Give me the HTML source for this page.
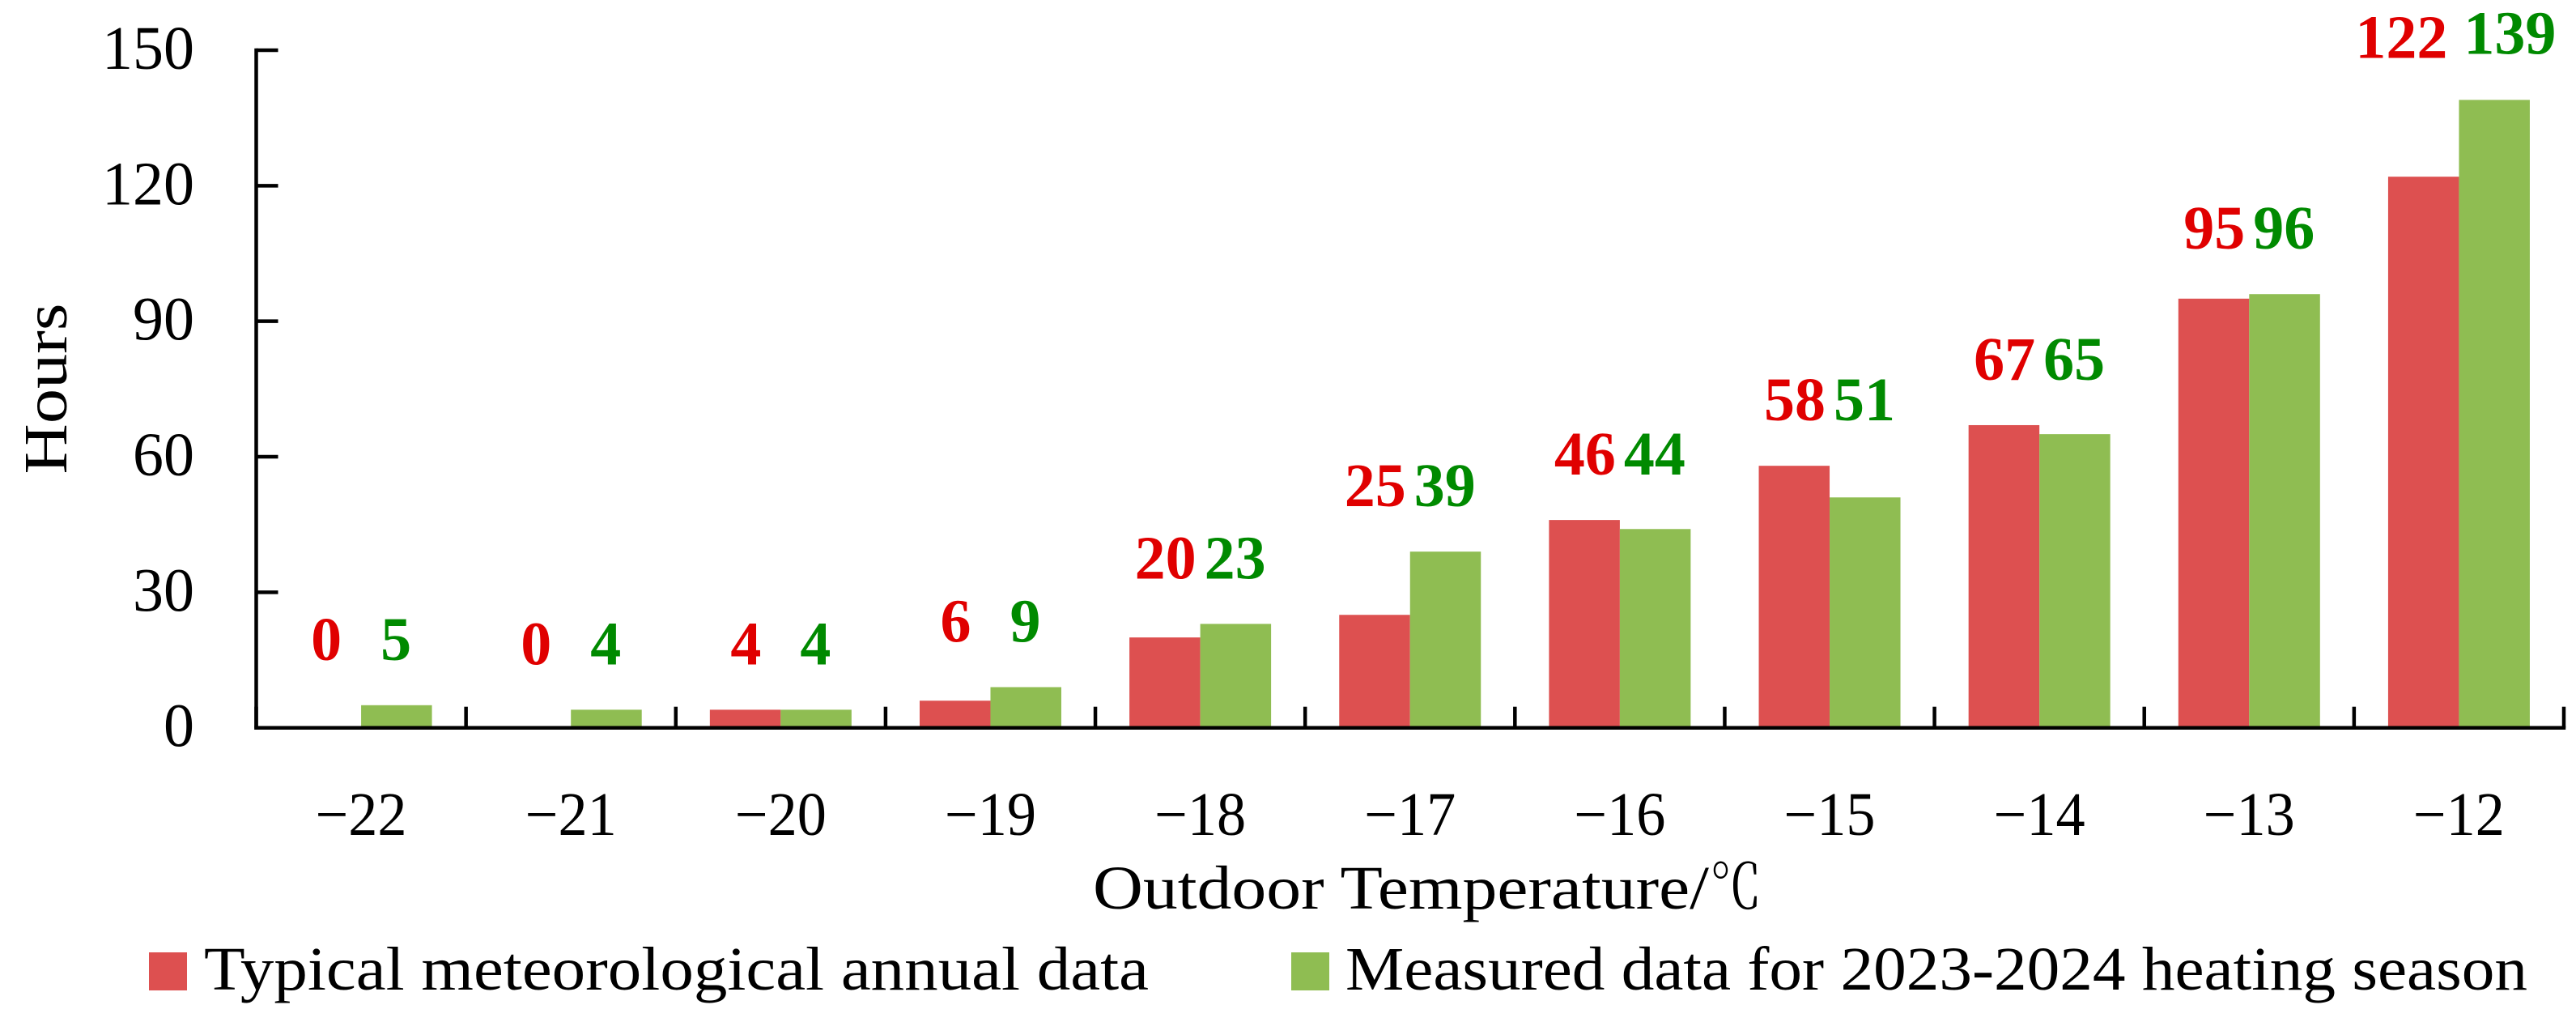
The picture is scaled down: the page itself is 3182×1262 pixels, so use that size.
<!DOCTYPE html>
<html lang="en">
<head>
<meta charset="utf-8">
<title>Outdoor temperature hours chart</title>
<style>
html,body{margin:0;padding:0;background:#fff;}
svg{display:block;}
text{font-family:"Liberation Serif","Noto Serif CJK SC",serif;fill:#000;font-size:76px;}
.lbl{font-weight:bold;}
</style>
</head>
<body>
<svg id="chart" xmlns="http://www.w3.org/2000/svg" width="3182" height="1262" viewBox="0 0 3182 1262">
  <rect x="0" y="0" width="3182" height="1262" fill="#fff"/>
  <g id="bars"></g>
  <g id="axes"></g>
  <g id="labels"></g>
  <text transform="translate(82,480) rotate(-90)" text-anchor="middle" textLength="211" lengthAdjust="spacingAndGlyphs">Hours</text>
  <text x="1350" y="1122" textLength="761" lengthAdjust="spacingAndGlyphs">Outdoor Temperature/</text>
  <text x="2112" y="1122" textLength="64" lengthAdjust="spacingAndGlyphs">℃</text>
  <g>
    <rect x="184" y="1176" width="47" height="47" fill="#DD5050"/>
    <text x="252" y="1222" textLength="1167" lengthAdjust="spacingAndGlyphs">Typical meteorological annual data</text>
    <rect x="1595" y="1176" width="47" height="47" fill="#8FBD52"/>
    <text x="1662" y="1222" textLength="1460" lengthAdjust="spacingAndGlyphs">Measured data for 2023-2024 heating season</text>
  </g>
</svg>
<script>
const categories = ["−22","−21","−20","−19","−18","−17","−16","−15","−14","−13","−12"];
const typicalHours = [0,0,4,6,20,25,46,58,67,95,122];
const measuredHours = [5,4,4,9,23,39,44,51,65,96,139];
const yTicks = [0,30,60,90,120,150];

const NS = "http://www.w3.org/2000/svg";
const plotLeft = 316.5, plotRight = 3167, plotBaseY = 898.7, plotTopY = 62;
const yMax = 150;
const barWidth = 87.5;
const stroke = 4.5;
const redBar = "#DD5050", greenBar = "#8FBD52", redText = "#E00000", greenText = "#008A00";

function xBand(i){ return plotLeft + (plotRight - plotLeft) * i / categories.length; }
function xCenter(i){ return xBand(i + 0.5); }
function y(v){ return plotBaseY - (plotBaseY - plotTopY) * v / yMax; }
function make(tag, attrs, parent){
  const el = document.createElementNS(NS, tag);
  for (const k in attrs) el.setAttribute(k, attrs[k]);
  parent.appendChild(el);
  return el;
}

const barsG = document.getElementById("bars");
const axesG = document.getElementById("axes");
const labelsG = document.getElementById("labels");

categories.forEach(function(cat, i){
  const c = xCenter(i);
  const a = typicalHours[i], b = measuredHours[i];

  const r1 = make("rect", {x: c - barWidth, y: y(a), width: barWidth, height: plotBaseY - y(a), fill: redBar}, barsG);
  
  
  const r2 = make("rect", {x: c, y: y(b), width: barWidth, height: plotBaseY - y(b), fill: greenBar}, barsG);
  
  

  const base = y(Math.max(a, b)) - 56;
  const la = String(a), lb = String(b);
  const offA = 43 + (la.length > 2 ? 28 : 0);
  const offB = 43 + (lb.length > 2 ? 20 : 0);
  const t1 = make("text", {x: c - offA, y: base + (la.length > 2 ? 4 : 0), "text-anchor": "middle", "class": "lbl", style: "fill:" + redText}, labelsG);
  t1.textContent = la;
  
  
  const t2 = make("text", {x: c + offB, y: base - (lb.length > 2 ? 1 : 0), "text-anchor": "middle", "class": "lbl", style: "fill:" + greenText}, labelsG);
  t2.textContent = lb;
  
  

  const tl = make("text", {x: c, y: 1031, "text-anchor": "middle", textLength: 113, lengthAdjust: "spacingAndGlyphs"}, axesG);
  tl.textContent = cat;
  
  
});

for (let i = 0; i <= categories.length; i++) {
  const tx = xBand(i);
  const tick = make("line", {x1: tx, x2: tx, y1: plotBaseY - 26, y2: plotBaseY, stroke: "#000", "stroke-width": stroke}, axesG);
  
  
}

yTicks.forEach(function(v){
  const ty = y(v);
  const tick = make("line", {x1: plotLeft, x2: plotLeft + 27, y1: ty, y2: ty, stroke: "#000", "stroke-width": stroke}, axesG);
  
  
  const tl = make("text", {x: 240, y: ty + 23, "text-anchor": "end"}, axesG);
  tl.textContent = String(v);
  
  
});

const yAxis = make("line", {x1: plotLeft, x2: plotLeft, y1: y(yMax) - stroke / 2, y2: plotBaseY + stroke / 2, stroke: "#000", "stroke-width": stroke}, axesG);


const xAxis = make("line", {x1: plotLeft - stroke / 2, x2: plotRight + stroke / 2, y1: plotBaseY, y2: plotBaseY, stroke: "#000", "stroke-width": stroke}, axesG);


</script>
</body>
</html>
